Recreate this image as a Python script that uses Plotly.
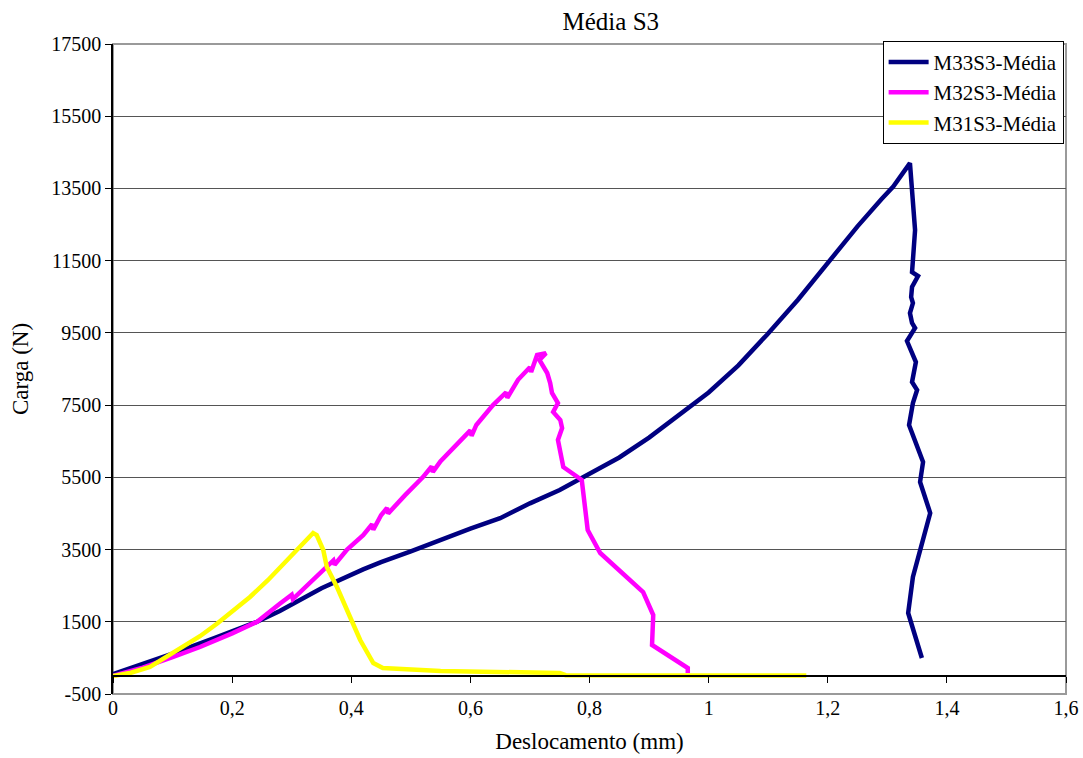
import plotly.graph_objects as go

# ---- data ----
m33_x = [0, 0.05, 0.10, 0.17, 0.242, 0.28, 0.35, 0.42, 0.45, 0.50, 0.55, 0.60, 0.65, 0.70, 0.75, 0.787,
         0.85, 0.90, 0.972, 1.00, 1.05, 1.098, 1.15, 1.20, 1.25, 1.29, 1.31, 1.338,
         1.3415, 1.3466, 1.343, 1.3415, 1.3516, 1.3415, 1.340, 1.343, 1.338, 1.3415, 1.3466, 1.333,
         1.348, 1.3415, 1.350, 1.343, 1.3365, 1.360, 1.355, 1.372, 1.343, 1.335, 1.358]
m33_y = [50, 330, 620, 1050, 1500, 1800, 2430, 2950, 3150, 3450, 3780, 4080, 4370, 4780, 5150, 5480,
         6050, 6600, 7500, 7850, 8600, 9450, 10420, 11450, 12450, 13200, 13550, 14200,
         13373, 12348, 11517, 11185, 11074, 10770, 10493, 10327, 10050, 9773, 9635, 9275,
         8693, 8139, 7918, 7558, 6949, 5924, 5370, 4512, 2740, 1743, 497]

m32_x = [0, 0.05, 0.10, 0.146, 0.20, 0.242, 0.28, 0.30, 0.302, 0.353, 0.37, 0.372, 0.393, 0.42, 0.435,
         0.437, 0.45, 0.46, 0.462, 0.49, 0.52, 0.535, 0.537, 0.55, 0.58, 0.60, 0.602, 0.61, 0.638,
         0.66, 0.662, 0.68, 0.70, 0.702, 0.712, 0.727, 0.716,
         0.729, 0.734, 0.737, 0.747, 0.739, 0.751, 0.754, 0.747, 0.756, 0.787, 0.797, 0.818,
         0.890, 0.907, 0.905, 0.965, 0.965]
m32_y = [0, 230, 520, 801, 1180, 1500, 2000, 2250, 2130, 2934, 3200, 3080, 3500, 3900, 4200,
         4050, 4450, 4650, 4500, 5000, 5500, 5800, 5650, 5950, 6450, 6800, 6650, 6950, 7500,
         7850, 7700, 8200, 8550, 8420, 8890, 8940, 8750,
         8389, 8112, 7835, 7558, 7309, 7087, 6866, 6533, 5786, 5426, 4041, 3404,
         2324, 1688, 857, 220, 81]

m31_x = [0, 0.03, 0.062, 0.10, 0.146, 0.175, 0.23, 0.26, 0.30, 0.336, 0.342, 0.353, 0.359, 0.376,
         0.398, 0.415, 0.437, 0.453, 0.55, 0.65, 0.75, 0.76, 0.90, 1.05, 1.164]
m31_y = [0, 90, 248, 620, 1100, 1450, 2186, 2650, 3350, 3958, 3903, 3487, 3017, 2463,
         1632, 995, 358, 220, 140, 110, 80, 20, 10, 5, 10]

series_names = ["M33S3-Média", "M32S3-Média", "M31S3-Média"]
series_colors = ["#000080", "#FF00FF", "#FFFF00"]

x_tick_vals = [0, 0.2, 0.4, 0.6, 0.8, 1.0, 1.2, 1.4, 1.6]
x_tick_text = ["0", "0,2", "0,4", "0,6", "0,8", "1", "1,2", "1,4", "1,6"]
y_tick_vals = [-500, 1500, 3500, 5500, 7500, 9500, 11500, 13500, 15500, 17500]
y_tick_text = [str(v) for v in y_tick_vals]

FONT = "'Liberation Serif', 'Times New Roman', Times, serif"

fig = go.Figure()
for xs, ys, name, col in zip([m33_x, m32_x, m31_x], [m33_y, m32_y, m31_y], series_names, series_colors):
    fig.add_trace(go.Scatter(x=xs, y=ys, mode="lines", name=name,
                             line=dict(color=col, width=4.5)))

# overlay axis carrying the axis line / ticks at y = 0
fig.add_trace(go.Scatter(x=[0, 1.6], y=[0, 0], xaxis="x2", mode="lines",
                         line=dict(width=0), showlegend=False, hoverinfo="skip"))

fig.update_layout(
    width=1083, height=758,
    margin=dict(l=113, r=17, t=44, b=64, autoexpand=False),
    paper_bgcolor="white", plot_bgcolor="white",
    font=dict(family=FONT, size=20, color="black"),
    title=dict(text="Média S3", x=0.564, xanchor="center", y=0.972, yanchor="middle",
               yref="container", font=dict(family=FONT, size=25, color="black")),
    showlegend=True,
    legend=dict(x=0.9975, xanchor="right", y=1.005, yanchor="top",
                bgcolor="white", bordercolor="black", borderwidth=1,
                font=dict(family=FONT, size=21, color="black"),
                itemwidth=40, tracegroupgap=0),
    xaxis=dict(range=[0, 1.6], tickvals=x_tick_vals, ticktext=x_tick_text,
               showgrid=False, zeroline=False, showline=False, ticks="",
               automargin=False, ticklabeloverflow="allow",
               tickfont=dict(family=FONT, size=20),
               title=dict(text="Deslocamento (mm)", font=dict(family=FONT, size=23), standoff=14)),
    xaxis2=dict(range=[0, 1.6], overlaying="x", anchor="free", position=500 / 18000,
                side="bottom", tickvals=x_tick_vals, showticklabels=False,
                ticks="outside", ticklen=6, tickcolor="black", tickwidth=1,
                showline=True, linecolor="black", linewidth=1.5,
                showgrid=False, zeroline=False, automargin=False),
    yaxis=dict(range=[-500, 17500], tickvals=y_tick_vals, ticktext=y_tick_text,
               showgrid=True, gridcolor="#555555", gridwidth=1,
               zeroline=False, showline=True, linecolor="black", linewidth=1.5,
               ticks="outside", ticklen=6, tickcolor="black",
               automargin=False, ticklabeloverflow="allow",
               tickfont=dict(family=FONT, size=20),
               title=dict(text="Carga (N)", font=dict(family=FONT, size=23), standoff=16)),
)

# plot-area border (gray) on top, right, bottom
fig.add_shape(type="rect", xref="paper", yref="paper", x0=0, y0=0, x1=1, y1=1,
              line=dict(color="#9a9a9a", width=2), layer="below")

fig.write_html("out.html", config={"displayModeBar": False},
               post_script="document.body.style.margin='0';")
